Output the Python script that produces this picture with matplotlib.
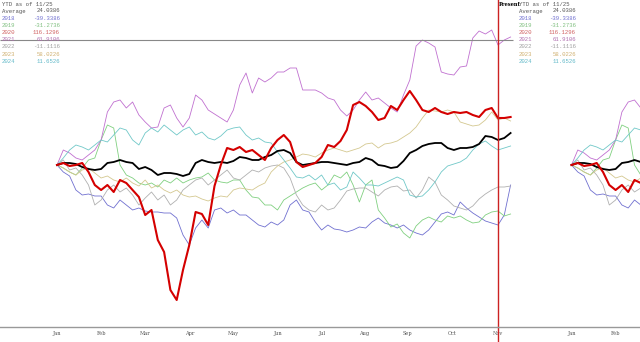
import numpy as np
import matplotlib
matplotlib.use("Agg")
import matplotlib.pyplot as plt

# ---- data: cumulative YTD change, sampled every 3 trading days ----
step = 3
y2018 = [0, -7, -11, -25, -30, -29, -31, -31, -40, -43, -35, -40, -45, -43, -46, -47, -47, -48, -48, -53,
         -70, -80, -63, -55, -63, -45, -43, -48, -45, -50, -50, -55, -60, -62, -57, -60, -55, -40, -35, -45,
         -47, -57, -65, -60, -64, -65, -67, -65, -62, -63, -57, -53, -58, -60, -63, -60, -65, -68, -70, -65,
         -57, -49, -47, -50, -37, -43, -48, -52, -56, -58, -60, -50, -20]
y2019 = [0, -3, -7, -10, -3, 5, 7, 25, 40, 37, 0, -10, -13, -18, -20, -18, -22, -15, -18, -13,
         -18, -15, -13, -12, -8, -15, -17, -18, -15, -15, -25, -32, -33, -40, -40, -45, -35, -31, -27, -23,
         -20, -18, -25, -20, -10, -13, -7, -20, -37, -20, -15, -45, -53, -62, -59, -68, -73, -61, -55, -52,
         -55, -57, -51, -53, -51, -55, -58, -57, -50, -47, -46, -51, -49]
y2020 = [0, 2, -1, 0, 2, -7, -20, -25, -20, -27, -15, -18, -25, -32, -50, -45, -75, -87, -125, -135,
         -105, -80, -47, -49, -60, -21, 0, 17, 15, 18, 13, 15, 10, 5, 17, 25, 30, 23, 3, -2,
         0, 2, 8, 20, 18, 24, 35, 60, 63, 59, 53, 45, 47, 59, 55, 65, 74, 65, 55, 53,
         57, 53, 51, 53, 52, 53, 50, 48, 55, 57, 47, 47, 48]
y2021 = [0, 15, 12, 7, 5, 10, 15, 25, 53, 63, 65, 57, 63, 50, 43, 37, 38, 57, 60, 47,
         38, 47, 70, 65, 55, 51, 47, 43, 55, 80, 92, 72, 87, 83, 87, 93, 93, 97, 97, 75,
         75, 75, 72, 67, 65, 55, 49, 55, 65, 73, 65, 67, 62, 57, 53, 70, 85, 119, 125, 122,
         118, 93, 91, 90, 98, 99, 127, 134, 131, 135, 120, 125, 128]
y2022 = [0, 5, -5, -3, -10, -20, -40, -35, -25, -20, -27, -23, -30, -40, -33, -27, -35, -30, -40, -35,
         -25, -20, -15, -13, -20, -15, -10, -5, -13, -15, -10, -5, -7, -3, -1, 0, -3, -13, -30, -40,
         -45, -47, -40, -45, -43, -35, -26, -24, -23, -23, -27, -31, -25, -22, -21, -26, -25, -33, -25, -12,
         -17, -30, -35, -41, -43, -45, -41, -34, -29, -25, -22, -22, -21]
y2023 = [0, -3, -7, -10, -5, -3, -8, -13, -11, -15, -17, -13, -18, -21, -15, -23, -20, -25, -28, -25,
         -30, -32, -31, -34, -36, -33, -31, -32, -25, -23, -24, -25, -21, -18, -7, -1, 3, 5, 8, 11,
         10, 8, 12, 15, 17, 15, 13, 15, 17, 21, 22, 17, 21, 22, 24, 28, 32, 38, 47, 55,
         54, 53, 55, 53, 43, 41, 39, 40, 45, 53, 45, 47, 44]
y2024 = [0, 7, 15, 20, 18, 15, 20, 25, 23, 30, 37, 35, 25, 20, 32, 37, 33, 40, 35, 30,
         35, 38, 30, 33, 27, 25, 29, 35, 37, 38, 30, 25, 27, 23, 22, 13, 5, -3, -12, -13,
         -10, -15, -10, -20, -18, -25, -22, -7, -13, -20, -20, -21, -18, -15, -12, -15, -30, -32, -31, -25,
         -17, -7, -1, 1, 3, 7, 15, 21, 24, 19, 15, 17, 19]
average = [0, 2, 2, 1, -2, -4, -5, -4, 2, 3, 5, 3, 2, -4, -2, -5, -10, -8, -8, -9,
           -11, -9, 2, 5, 3, 2, 3, 2, 4, 8, 7, 5, 5, 8, 10, 14, 15, 12, 3, 0,
           1, 2, 3, 3, 2, 1, 0, 2, 3, 7, 5, 0, -1, -3, -2, 4, 12, 15, 19, 21,
           22, 22, 17, 15, 17, 17, 18, 21, 29, 28, 25, 27, 32]

months = ["Jan", "Feb", "Mar", "Apr", "May", "Jun", "Jul", "Aug", "Sep", "Oct", "Nov"]
month_days = [0, 21, 42, 63, 84, 105, 126, 146, 167, 188, 210]
present_day = 210
cursor_value = 125

legend_title = "YTD as of 11/25"
legend_names = ["Average", "2018", "2019", "2020", "2021", "2022", "2023", "2024"]
legend_values = ["24.0386", "-39.3386", "-31.2736", "116.1296", "61.9106", "-11.1116", "58.0226", "11.6526"]

# ---- styling ----
thin = [(y2018, "#7070d0"), (y2019, "#80d080"), (y2021, "#c070d0"),
        (y2022, "#b0b0b0"), (y2023, "#d4c890"), (y2024, "#70c8c8")]
text_colors = ["#555555", "#7070d0", "#80c080", "#d06060", "#b070b0", "#a0a0a0", "#d0b070", "#60b8c8"]
wrap = 245  # the chart repeats itself one "year" further right

fig = plt.figure(figsize=(6.4, 3.42), dpi=100)
ax = fig.add_axes([0, 15 / 342, 1, 327 / 342])
px = 2.1  # pixels per trading day
ax.set_xlim(-57 / px, (640 - 57) / px)
ax.set_ylim(-162, 165)

for shift in (0, wrap):
    for vals, col in thin:
        x = np.arange(len(vals)) * step + shift
        ax.plot(x, vals, color=col, lw=0.6)
    x = np.arange(len(average)) * step + shift
    ax.plot(x, average, color="black", lw=1.3)
    x = np.arange(len(y2020)) * step + shift
    ax.plot(x, y2020, color="#d40000", lw=1.5)

ax.hlines(cursor_value, -57 / px, (513 - 57) / px, color="#888888", lw=0.8)
ax.axvline(present_day, ymin=-0.05, ymax=1, color="#cc2222", lw=1.0, clip_on=False)

for sp in ["top", "left", "right"]:
    ax.spines[sp].set_visible(False)
ax.spines["bottom"].set_color("#999999")
ax.spines["bottom"].set_linewidth(1.0)
ax.set_yticks([])
ax.set_xticks(month_days + [wrap + d for d in month_days[:2]])
ax.set_xticklabels(months + months[:2], fontsize=3.6, color="#555555",
                   family="DejaVu Serif")
ax.tick_params(axis="x", length=0, pad=3)

fig.text(499 / 640, 1 - 5 / 342, "Present", fontsize=3.7, fontweight="bold",
         family="DejaVu Serif", va="center", ha="left")

mono = "Liberation Mono"
for x0, x1 in ((2, 60), (519, 576)):
    fig.text(x0 / 640, 1 - 4 / 342, legend_title, fontsize=4.1, family=mono,
             color="#555555", va="center", ha="left")
    for i, (n, v) in enumerate(zip(legend_names, legend_values)):
        yy = 1 - (11 + 7.2 * i) / 342
        fig.text(x0 / 640, yy, n, fontsize=4.1, family=mono,
                 color=text_colors[i], va="center", ha="left")
        fig.text(x1 / 640, yy, v, fontsize=4.1, family=mono,
                 color=text_colors[i], va="center", ha="right")

fig.savefig("out.png", dpi=100)
